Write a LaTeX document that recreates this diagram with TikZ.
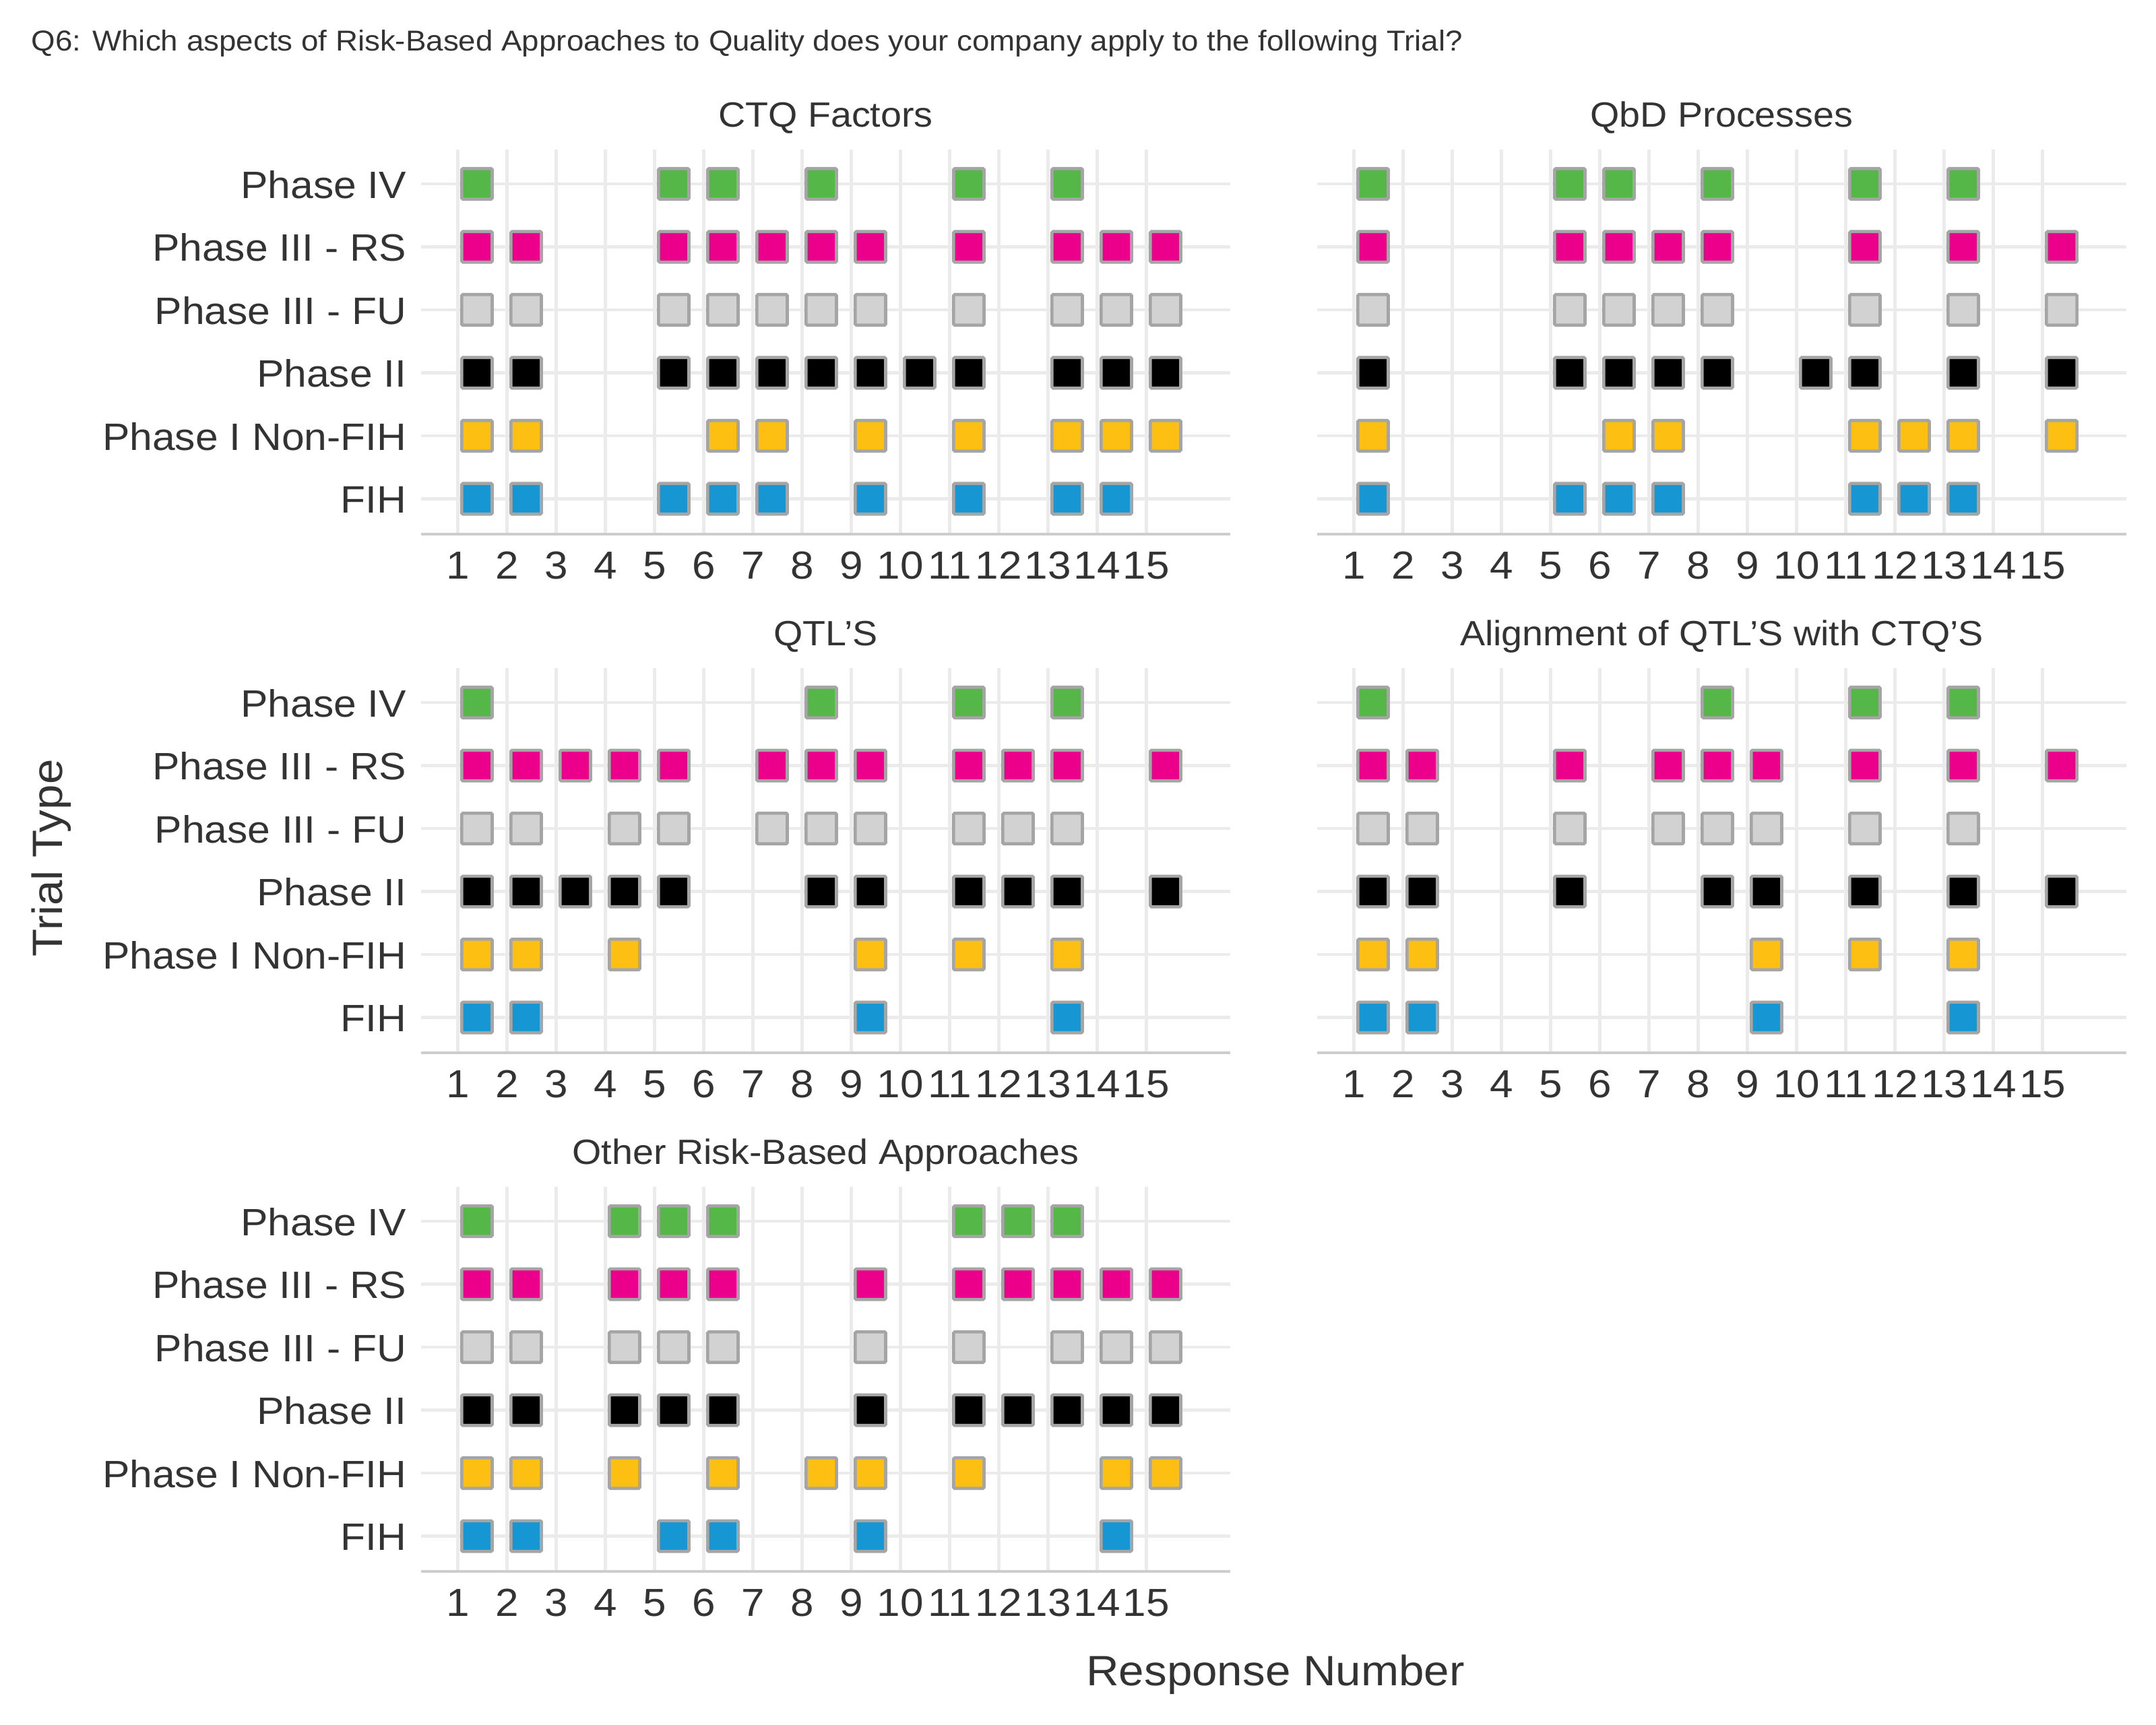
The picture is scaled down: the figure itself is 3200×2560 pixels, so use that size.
\documentclass[tikz,border=0pt]{standalone}
\usepackage{fontspec}
\setmainfont{Liberation Sans}[FakeStretch=1.07]
\usetikzlibrary{positioning}

% couleurs des types d'essai (Phase IV en haut, FIH en bas)
\definecolor{row1}{HTML}{55B748}
\definecolor{row2}{HTML}{EC008B}
\definecolor{row3}{HTML}{D2D2D2}
\definecolor{row4}{HTML}{000000}
\definecolor{row5}{HTML}{FDBF11}
\definecolor{row6}{HTML}{1696D2}
\definecolor{textgray}{HTML}{333333}
\definecolor{gridgray}{HTML}{EBEBEB}
\definecolor{axisgray}{HTML}{CDCDCD}
\definecolor{tileborder}{HTML}{A5A5A5}

\begin{document}
\begin{tikzpicture}[x=0.01cm,y=-0.01cm,
    gridline/.style={draw=gridgray,line width=1.34pt},
    axisline/.style={draw=axisgray,line width=1.2pt},
    tile/.style={draw=tileborder,line width=1.34pt,rounded corners=0.5pt,minimum size=0.453cm,inner sep=0pt},
    ticklab/.style={text=textgray,inner sep=0pt,font=\fontsize{16.5pt}{19pt}\selectfont},
    rowlab/.style={text=textgray,inner sep=0pt,font=\fontsize{16.1pt}{19pt}\selectfont},
    paneltitle/.style={text=textgray,inner sep=0pt,font=\fontsize{14.8pt}{17pt}\selectfont},
    axistitle/.style={text=textgray,inner sep=0pt,font=\fontsize{17.9pt}{21pt}\selectfont}]

    \useasboundingbox (0,0) rectangle (3200,2560);

    % Titre de la question
    \node[text=textgray,inner sep=0pt,anchor=base west,font=\fontsize{12.15pt}{14pt}\selectfont] (question) at (46,75) {Q6: Which aspects of Risk-Based Approaches to Quality does your company apply to the following Trial?};

    % Grilles, axes et graduations des cinq panneaux
    \foreach \p/\ox/\oy/\ptitle in {1/0/0/CTQ Factors, 2/1330/0/QbD Processes, 3/0/770/QTL’S, 4/1330/770/Alignment of QTL’S with CTQ’S, 5/0/1540/Other Risk-Based Approaches}{
        \foreach \r in {1,...,6}
            \draw[gridline] (625+\ox,{273+93.5*(\r-1)+\oy}) -- ++(1201,0);
        \foreach \k in {1,...,15}{
            \draw[gridline] ({679.5+73*(\k-1)+\ox},222+\oy) -- ++(0,570.7);
            \node[ticklab,anchor=base] (tick-\p-\k) at ({679.5+73*(\k-1)+\ox},859+\oy) {\k};
        }
        \draw[axisline] (625+\ox,792.7+\oy) -- ++(1201,0);
        \node[paneltitle,anchor=base] (title-\p) at (1225.5+\ox,188+\oy) {\ptitle};
    }

    % Etiquettes des types d'essai (panneaux de gauche)
    \foreach \oy in {0,770,1540}
        \foreach \r/\lab in {1/Phase IV, 2/Phase III - RS, 3/Phase III - FU, 4/Phase II, 5/Phase I Non-FIH, 6/FIH}
            \node[rowlab,anchor=base east] (lab-\oy-\r) at (604,{294+93.5*(\r-1)+\oy}) {\lab};

    % Carres des reponses : panneau / decalages / ligne / numeros
    \foreach \p/\ox/\oy/\r/\cols in {
        1/0/0/1/{1,5,6,8,11,13},
        1/0/0/2/{1,2,5,6,7,8,9,11,13,14,15},
        1/0/0/3/{1,2,5,6,7,8,9,11,13,14,15},
        1/0/0/4/{1,2,5,6,7,8,9,10,11,13,14,15},
        1/0/0/5/{1,2,6,7,9,11,13,14,15},
        1/0/0/6/{1,2,5,6,7,9,11,13,14},
        2/1330/0/1/{1,5,6,8,11,13},
        2/1330/0/2/{1,5,6,7,8,11,13,15},
        2/1330/0/3/{1,5,6,7,8,11,13,15},
        2/1330/0/4/{1,5,6,7,8,10,11,13,15},
        2/1330/0/5/{1,6,7,11,12,13,15},
        2/1330/0/6/{1,5,6,7,11,12,13},
        3/0/770/1/{1,8,11,13},
        3/0/770/2/{1,2,3,4,5,7,8,9,11,12,13,15},
        3/0/770/3/{1,2,4,5,7,8,9,11,12,13},
        3/0/770/4/{1,2,3,4,5,8,9,11,12,13,15},
        3/0/770/5/{1,2,4,9,11,13},
        3/0/770/6/{1,2,9,13},
        4/1330/770/1/{1,8,11,13},
        4/1330/770/2/{1,2,5,7,8,9,11,13,15},
        4/1330/770/3/{1,2,5,7,8,9,11,13},
        4/1330/770/4/{1,2,5,8,9,11,13,15},
        4/1330/770/5/{1,2,9,11,13},
        4/1330/770/6/{1,2,9,13},
        5/0/1540/1/{1,4,5,6,11,12,13},
        5/0/1540/2/{1,2,4,5,6,9,11,12,13,14,15},
        5/0/1540/3/{1,2,4,5,6,9,11,13,14,15},
        5/0/1540/4/{1,2,4,5,6,9,11,12,13,14,15},
        5/0/1540/5/{1,2,4,6,8,9,11,14,15},
        5/0/1540/6/{1,2,5,6,9,14}}
        \foreach \k in \cols
            \node[tile,fill=row\r] (tile-\p-\r-\k) at ({707.9+73*(\k-1)+\ox},{273+93.5*(\r-1)+\oy}) {};

    % Titres des axes
    \node[axistitle,anchor=base] (xtitle) at (1893,2502) {Response Number};
    \node[axistitle,anchor=base,rotate=90] (ytitle) at (92,1274) {Trial Type};
\end{tikzpicture}
\end{document}
